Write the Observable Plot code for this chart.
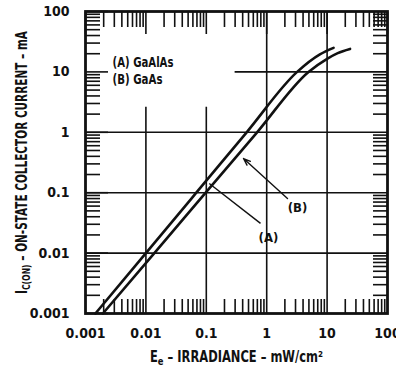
<!DOCTYPE html>
<html><head><meta charset="utf-8">
<script src="https://cdn.jsdelivr.net/npm/d3@7"></script>
<script src="https://cdn.jsdelivr.net/npm/@observablehq/plot@0.6"></script>
<style>
body{margin:0;background:#fff}
svg{display:block}
</style>
</head><body><div id="chart"></div>
<script>
// Curve (A) GaAlAs: irradiance (mW/cm²) vs collector current (mA)
const curveA_E = [0.00146, 0.0100, 0.0683, 0.466, 3.19, 7.6, 12.8];
const curveA_I = [0.001, 0.01, 0.1, 1, 10, 19.5, 25];
// Curve (B) GaAs
const curveB_E = [0.00194, 0.0138, 0.0977, 0.693, 4.92, 10, 15, 24];
const curveB_I = [0.001, 0.01, 0.1, 1, 10, 16.5, 20.5, 24];
// Decade ticks and labels (both axes)
const decades = [0.001, 0.01, 0.1, 1, 10, 100];
const decadeLabels = ["0.001", "0.01", "0.1", "1", "10", "100"];
const minorMultipliers = [2, 3, 4, 5, 6, 7, 8, 9];
// Grid segments (broken around the legend)
const gridX = [0.01, 0.1, 1, 10];
const gridXTop = [2.6, 2.6, 100, 100];
const gridY = [0.01, 0.1, 1, 10];
const gridYStart = [0.001, 0.001, 0.001, 0.3];
// Annotation pointers: (A) plain line, (B) arrow
const annLabels = ["(A)", "(B)"];
const annFromE = [0.79, 2.21];
const annFromI = [0.031, 0.080];
const annToE = [0.112, 0.413];
const annToI = [0.142, 0.368];
const annLabelE = [1.07, 3.24];
const annLabelI = [0.018, 0.057];
const legendLines = ["(A) GaAlAs", "(B) GaAs"];
const xLabel = "Ee – IRRADIANCE – mW/cm²";
const yLabel = "IC(ON) – ON-STATE COLLECTOR CURRENT – mA";

const curveA = curveA_E.map((e, i) => ({E: e, I: curveA_I[i]}));
const curveB = curveB_E.map((e, i) => ({E: e, I: curveB_I[i]}));
const minor = decades.slice(0, -1).flatMap(d => minorMultipliers.map(m => d * m));
const gx = gridX.map((x, i) => ({x, y2: gridXTop[i]}));
const gy = gridY.map((y, i) => ({y, x1: gridYStart[i]}));
const ann = annLabels.map((t, i) => ({t, x1: annFromE[i], y1: annFromI[i], x2: annToE[i], y2: annToI[i], lx: annLabelE[i], ly: annLabelI[i]}));
const fmt = d => decadeLabels[decades.indexOf(d)];

const FONT = "'DejaVu Sans', sans-serif";
const ink = "#111";

const chart = Plot.plot({
  width: 396, height: 368,
  marginLeft: 85, marginRight: 9, marginTop: 11, marginBottom: 55,
  style: {fontFamily: FONT, fontSize: "13px", fontWeight: "bold", fontStretch: "condensed", color: ink, background: "#fff"},
  x: {type: "log", domain: [0.001, 100]},
  y: {type: "log", domain: [0.001, 100]},
  marks: [
    Plot.ruleX(gx, {x: "x", y1: 0.001, y2: "y2", stroke: ink, strokeWidth: 1.6}),
    Plot.ruleY(gy, {y: "y", x1: "x1", x2: 100, stroke: ink, strokeWidth: 1.6}),
    // inward ticks, all four sides
    Plot.axisX(minor, {anchor: "bottom", tickSize: -14, text: null, strokeWidth: 1.6}),
    Plot.axisX(minor, {anchor: "top", tickSize: -15, text: null, strokeWidth: 1.6}),
    Plot.axisY(minor, {anchor: "left", tickSize: -15, text: null, strokeWidth: 1.6}),
    Plot.axisY(minor, {anchor: "right", tickSize: -15, text: null, strokeWidth: 1.6}),
    Plot.axisX(decades, {anchor: "top", tickSize: -22, text: null, strokeWidth: 1.6}),
    Plot.axisY(decades, {anchor: "left", tickSize: -23, text: null, strokeWidth: 1.6}),
    Plot.axisX(decades, {anchor: "bottom", tickSize: 0, tickPadding: 15, tickFormat: fmt, label: null, fontSize: 14}),
    Plot.axisY(decades, {anchor: "left", tickSize: 0, tickPadding: 16, tickFormat: fmt, label: null, fontSize: 14}),
    Plot.frame({stroke: ink, strokeWidth: 2.8}),
    Plot.line(curveA, {x: "E", y: "I", curve: "monotone-x", stroke: ink, strokeWidth: 2.6}),
    Plot.line(curveB, {x: "E", y: "I", curve: "monotone-x", stroke: ink, strokeWidth: 2.6}),
    Plot.link(ann.slice(0, 1), {x1: "x1", y1: "y1", x2: "x2", y2: "y2", stroke: ink, strokeWidth: 1.4}),
    Plot.arrow(ann.slice(1), {x1: "x1", y1: "y1", x2: "x2", y2: "y2", stroke: ink, strokeWidth: 1.4, headLength: 8, headAngle: 40}),
    Plot.text(ann, {x: "lx", y: "ly", text: "t", fontSize: 13}),
    Plot.text(legendLines.slice(0, 1), {frameAnchor: "top-left", dx: 27, dy: 51, textAnchor: "start", lineAnchor: "middle", fontSize: 14}),
    Plot.text(legendLines.slice(1), {frameAnchor: "top-left", dx: 27, dy: 68, textAnchor: "start", lineAnchor: "middle", fontSize: 14}),
    Plot.text([xLabel], {frameAnchor: "bottom", dy: 44, textAnchor: "middle", lineAnchor: "middle", fontSize: 15}),
    Plot.text([yLabel], {frameAnchor: "left", dx: -63, rotate: -90, textAnchor: "middle", lineAnchor: "middle", fontSize: 15})
  ]
});

// subscripts in axis labels
function subscript(textEl, main, sub, rest) {
  while (textEl.firstChild) textEl.removeChild(textEl.firstChild);
  const ns = "http://www.w3.org/2000/svg";
  const a = document.createElementNS(ns, "tspan"); a.textContent = main;
  const b = document.createElementNS(ns, "tspan"); b.textContent = sub;
  b.setAttribute("baseline-shift", "-30%"); b.setAttribute("font-size", "11");
  const c = document.createElementNS(ns, "tspan"); c.textContent = rest;
  textEl.append(a, b, c);
}
document.getElementById("chart").append(chart);
const widths = new Map([[xLabel, 173], [yLabel, 263], [legendLines[0], 61], [legendLines[1], 50]]);
chart.querySelectorAll("text").forEach(t => {
  const s = t.textContent;
  if (s === xLabel) subscript(t, "E", "e", xLabel.slice(2));
  else if (s === yLabel) subscript(t, "I", "C(ON)", yLabel.slice(6));
  if (widths.has(s)) {
    t.setAttribute("textLength", widths.get(s));
    t.setAttribute("lengthAdjust", "spacingAndGlyphs");
  }
});
</script>
</body></html>
